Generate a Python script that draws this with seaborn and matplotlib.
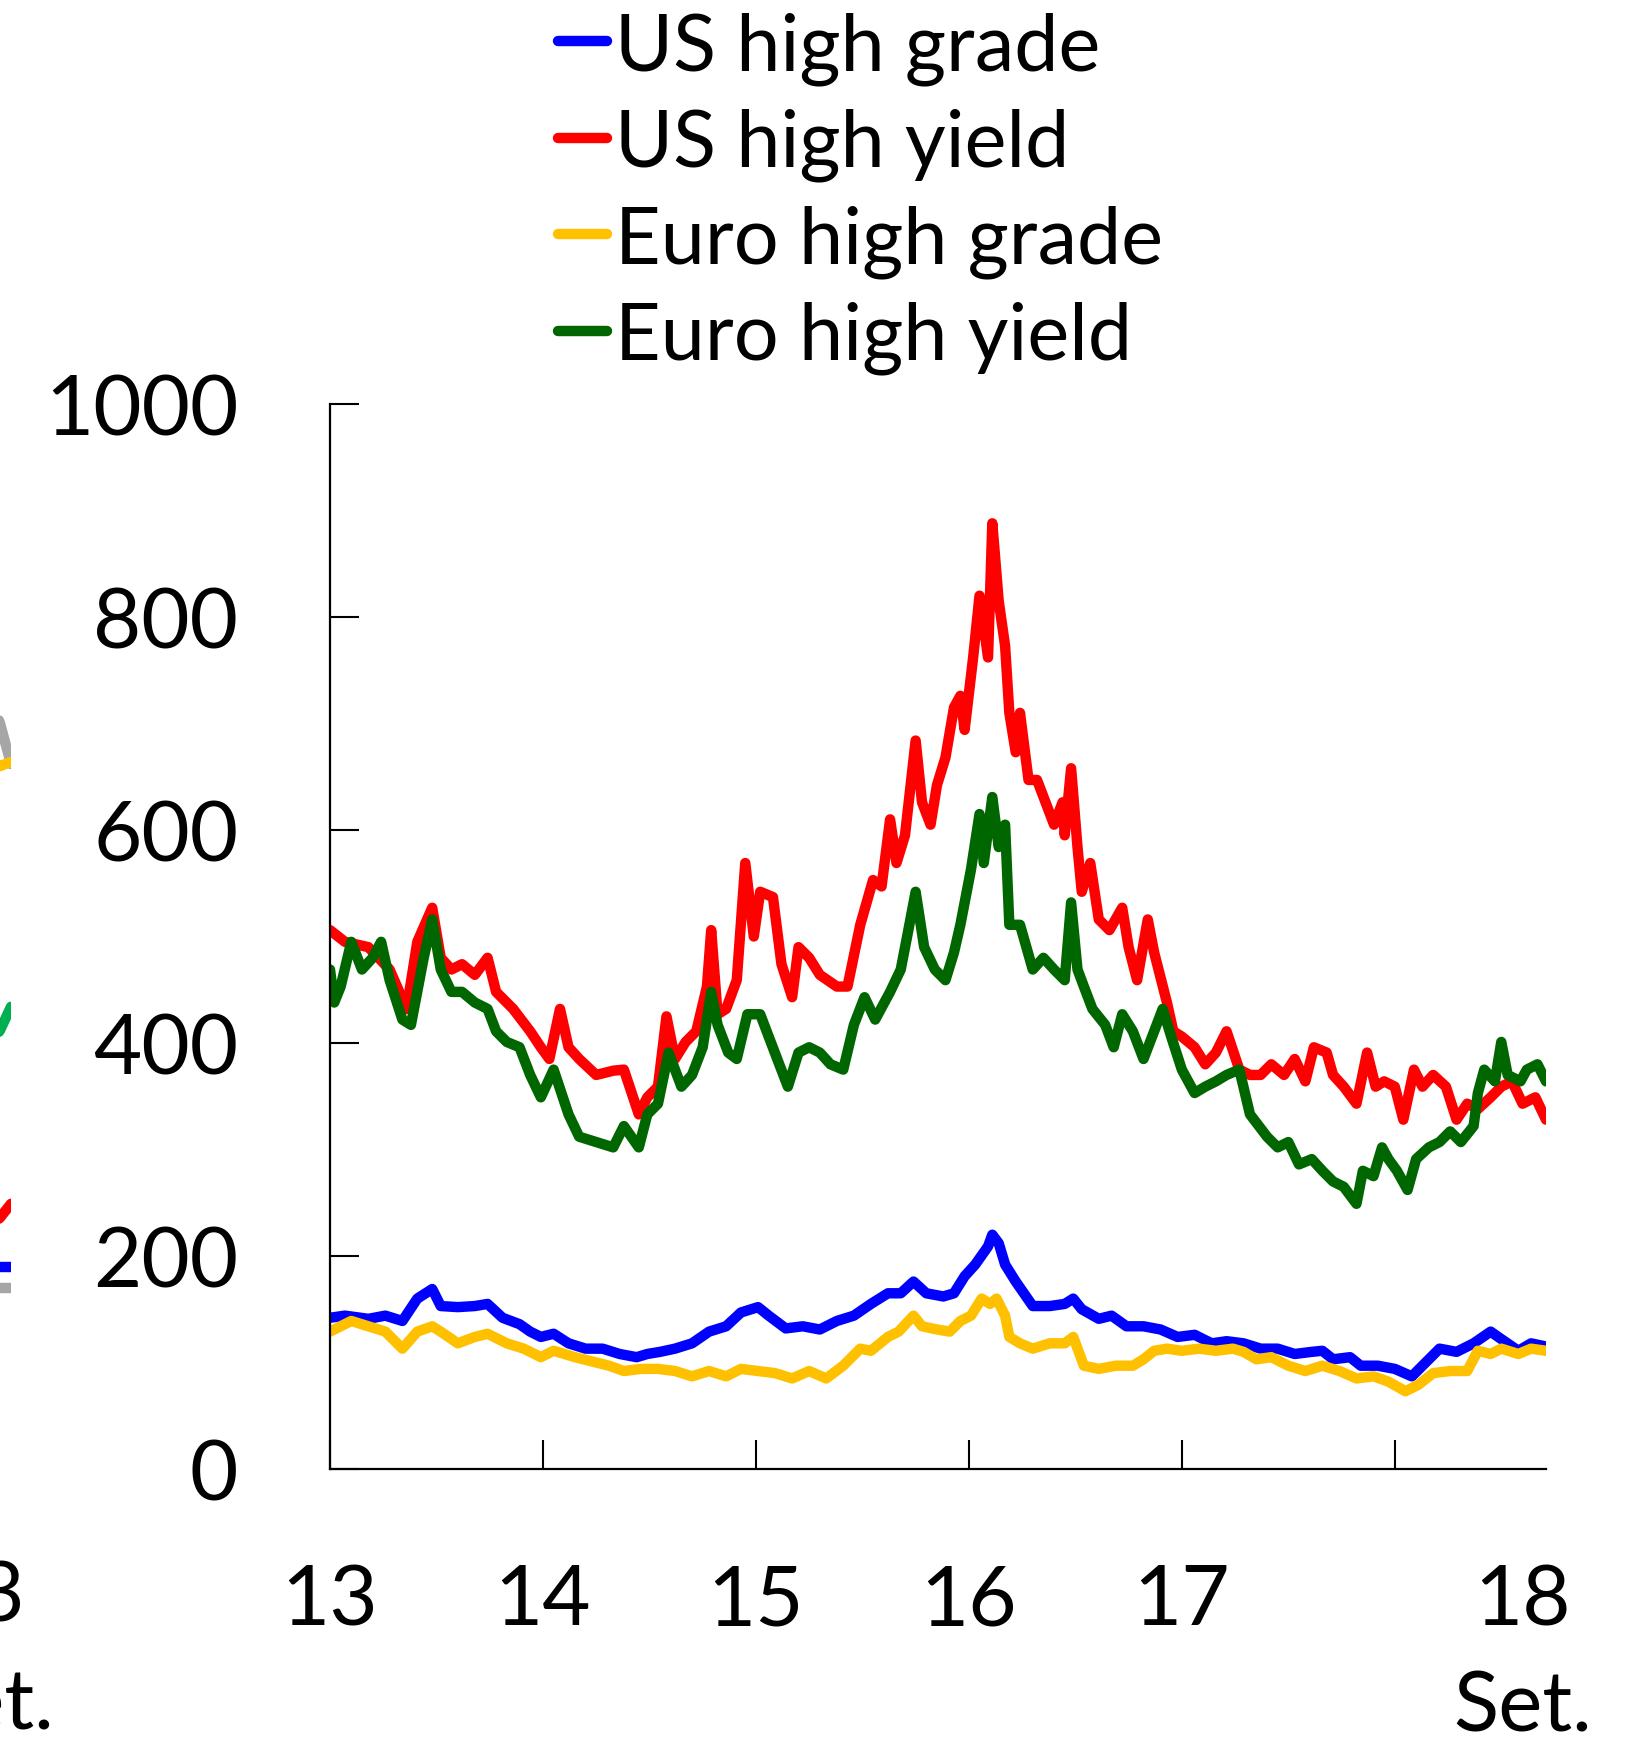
import matplotlib
matplotlib.use('Agg')
import matplotlib.pyplot as plt
from matplotlib.lines import Line2D
import pandas as pd
import seaborn as sns

# spread in punti base, ascissa in anni (13 = gen 2013)
us_hg_t = [13.00,13.07,13.18,13.26,13.34,13.41,13.48,13.52,13.60,13.68,
           13.74,13.81,13.89,13.94,13.99,14.05,14.12,14.20,14.28,14.36,
           14.44,14.49,14.55,14.62,14.70,14.78,14.86,14.93,15.01,15.06,
           15.14,15.22,15.30,15.38,15.46,15.54,15.62,15.68,15.74,15.80,
           15.88,15.93,15.98,16.03,16.09,16.11,16.14,16.17,16.22,16.30,
           16.38,16.45,16.49,16.53,16.61,16.67,16.74,16.82,16.90,16.98,
           17.06,17.14,17.21,17.29,17.37,17.45,17.53,17.61,17.66,17.71,
           17.79,17.84,17.92,18.00,18.08,18.13,18.21,18.29,18.37,18.45,
           18.50,18.58,18.64,18.71]
us_hg_v = [142,144,141,144,139,160,169,153,152,153,
           155,142,136,129,124,127,118,113,113,108,
           105,108,110,113,118,129,134,147,152,144,
           132,134,131,139,144,155,165,165,176,165,
           162,165,181,192,209,220,212,192,176,153,
           153,155,160,150,141,144,134,134,131,124,
           126,118,120,118,113,113,108,110,111,103,
           105,97,97,94,87,97,113,110,118,129,
           122,111,118,115]

us_hy_t = [13.00,13.07,13.18,13.28,13.36,13.41,13.48,13.52,13.57,13.62,
           13.68,13.74,13.78,13.86,13.94,13.99,14.03,14.08,14.12,14.17,
           14.25,14.33,14.38,14.45,14.49,14.54,14.58,14.62,14.67,14.72,
           14.77,14.79,14.82,14.86,14.91,14.95,14.99,15.02,15.08,15.12,
           15.17,15.20,15.25,15.30,15.38,15.43,15.49,15.55,15.59,15.63,
           15.66,15.70,15.75,15.78,15.82,15.85,15.89,15.93,15.96,15.98,
           16.02,16.05,16.09,16.11,16.14,16.17,16.19,16.22,16.24,16.28,
           16.32,16.36,16.40,16.44,16.45,16.48,16.51,16.53,16.57,16.61,
           16.66,16.72,16.75,16.79,16.84,16.87,16.93,16.96,17.00,17.06,
           17.11,17.16,17.21,17.27,17.32,17.37,17.42,17.48,17.53,17.58,
           17.62,17.68,17.71,17.76,17.82,17.87,17.91,17.95,18.00,18.04,
           18.09,18.13,18.18,18.24,18.29,18.34,18.39,18.45,18.50,18.55,
           18.60,18.66,18.71]
us_hy_v = [506,495,490,469,432,495,527,480,469,474,
           464,480,448,432,411,396,385,432,396,385,
           370,374,375,333,349,359,425,385,401,411,
           453,506,427,432,459,569,500,542,537,474,
           443,490,480,464,453,453,511,553,547,610,
           569,595,684,626,605,642,668,715,726,694,
           762,820,762,888,815,773,710,673,710,647,
           647,626,605,626,595,658,584,542,569,516,
           506,527,490,459,516,485,438,411,406,396,
           380,391,411,375,370,370,380,370,385,364,
           396,391,370,359,343,391,359,364,359,328,
           375,359,370,359,328,343,338,349,359,364,
           343,349,328]

eu_hg_t = [13.00,13.05,13.10,13.18,13.26,13.34,13.41,13.48,13.52,13.60,
           13.68,13.74,13.83,13.91,13.99,14.05,14.15,14.23,14.31,14.38,
           14.46,14.54,14.62,14.70,14.78,14.86,14.93,15.01,15.09,15.17,
           15.25,15.33,15.41,15.49,15.54,15.62,15.67,15.74,15.78,15.85,
           15.91,15.96,16.01,16.06,16.10,16.13,16.17,16.19,16.24,16.30,
           16.38,16.45,16.49,16.54,16.61,16.69,16.77,16.82,16.87,16.93,
           17.00,17.08,17.16,17.24,17.29,17.35,17.42,17.50,17.58,17.66,
           17.74,17.82,17.90,17.97,18.05,18.11,18.18,18.26,18.34,18.39,
           18.45,18.50,18.58,18.64,18.71]
eu_hg_v = [129,134,139,134,129,113,129,134,129,118,
           124,127,118,113,105,111,105,101,97,92,
           94,94,92,87,92,87,94,92,90,85,
           92,85,97,113,111,124,129,144,134,131,
           129,139,144,160,155,160,144,124,118,113,
           118,118,124,97,94,97,97,103,111,113,
           111,113,111,113,110,103,105,97,92,97,
           92,85,87,82,73,79,90,92,92,111,
           108,113,108,113,111]

eu_hy_t = [13.00,13.02,13.05,13.10,13.15,13.20,13.24,13.28,13.34,13.38,
           13.44,13.48,13.52,13.57,13.62,13.68,13.74,13.78,13.83,13.89,
           13.94,13.99,14.05,14.12,14.17,14.25,14.33,14.38,14.45,14.49,
           14.54,14.59,14.65,14.70,14.75,14.79,14.82,14.87,14.91,14.96,
           15.02,15.06,15.10,15.15,15.20,15.25,15.30,15.35,15.41,15.46,
           15.51,15.56,15.63,15.68,15.71,15.75,15.79,15.84,15.89,15.93,
           15.96,16.01,16.05,16.07,16.11,16.14,16.17,16.19,16.24,16.30,
           16.35,16.40,16.45,16.48,16.51,16.54,16.58,16.64,16.68,16.72,
           16.77,16.82,16.87,16.91,16.95,17.00,17.06,17.11,17.16,17.21,
           17.27,17.32,17.40,17.45,17.50,17.55,17.61,17.66,17.71,17.76,
           17.82,17.85,17.90,17.94,17.97,18.01,18.06,18.10,18.16,18.21,
           18.26,18.31,18.37,18.39,18.42,18.47,18.50,18.53,18.59,18.62,
           18.67,18.71]
eu_hy_v = [469,438,453,495,469,480,495,459,422,417,
           480,516,469,448,448,438,432,411,401,396,
           370,349,375,333,312,307,302,322,302,333,
           343,391,359,370,396,448,417,391,385,427,
           427,406,385,359,391,396,391,380,375,417,
           443,422,448,469,500,542,490,469,459,485,
           511,563,615,569,631,584,605,511,511,469,
           480,469,459,532,469,453,432,417,396,427,
           411,385,411,432,406,375,353,359,364,370,
           375,333,312,302,307,286,291,280,270,265,
           249,280,275,302,291,280,262,291,302,307,
           317,307,322,353,375,364,401,370,364,375,
           380,364]

series = ['US high grade', 'US high yield', 'Euro high grade', 'Euro high yield']
colori = ['#0000ff', '#ff0000', '#ffc000', '#006600']

# frammenti del grafico accanto (tagliato a sinistra)
fram_nomi = ['grigio', 'arancio', 'verde', 'rosso', 'blu', 'grigio2']
fram_col = ['#a6a6a6', '#ffc000', '#00b050', '#ff0000', '#0000ff', '#a6a6a6']
fram_v = [[730, 700, 662], [664, 660, 664], [396, 412, 434], [226, 236, 249], [190, 190, 190], [170, 170, 170]]

df = pd.concat([
    pd.DataFrame({'anno': us_hg_t, 'spread': us_hg_v, 'serie': series[0]}),
    pd.DataFrame({'anno': us_hy_t, 'spread': us_hy_v, 'serie': series[1]}),
    pd.DataFrame({'anno': eu_hg_t, 'spread': eu_hg_v, 'serie': series[2]}),
    pd.DataFrame({'anno': eu_hy_t, 'spread': eu_hy_v, 'serie': series[3]}),
], ignore_index=True)

sns.set_style('white')
plt.rcParams['font.family'] = ['Lato', 'DejaVu Sans']
plt.rcParams['text.color'] = 'black'
plt.rcParams['xtick.color'] = 'black'
plt.rcParams['ytick.color'] = 'black'
fs = 60
lw = 7.5

fig = plt.figure(figsize=(16.4, 17.49), dpi=100)
ax = fig.add_axes([330/1640, 1 - 1470/1749, (1546 - 330)/1640, (1470 - 405)/1749])

sns.lineplot(data=df, x='anno', y='spread', hue='serie', hue_order=series,
             palette=colori, estimator=None, sort=False, legend=False, ax=ax)
for ln in ax.get_lines():
    ln.set_linewidth(lw)
    ln.set_solid_joinstyle('round')
    ln.set_solid_capstyle('round')

ax.set_xlim(13, 18.71)
ax.set_ylim(0, 1000)
ax.set_xlabel('')
ax.set_ylabel('')
sns.despine(ax=ax)
for s in ['left', 'bottom']:
    ax.spines[s].set_linewidth(1.6)
    ax.spines[s].set_color('black')

ax.set_yticks([0, 200, 400, 600, 800, 1000])
ax.set_xticks([13, 14, 15, 16, 17, 18])
ax.set_xticklabels(['13', '14', '15', '16', '17', ''])
ax.set_xticks([18.6], minor=True)
ax.set_xticklabels(['18\nSet.'], minor=True)
ax.tick_params(axis='both', which='major', direction='in', length=21, width=1.5,
               color='black', labelsize=fs, bottom=True, left=True)
ax.tick_params(axis='y', pad=66)
ax.tick_params(axis='x', which='major', pad=68)
ax.tick_params(axis='x', which='minor', bottom=True, length=0, pad=68, labelsize=fs)
for lab in ax.get_xticklabels(minor=True):
    lab.set_linespacing(1.5)

handles = [Line2D([], [], color=c, lw=lw, solid_capstyle='round') for c in colori]
fig.legend(handles, series, loc='upper left', bbox_to_anchor=(558/1640, 1 - 12/1749),
           frameon=False, fontsize=57, handlelength=0.62, handletextpad=0.1,
           labelspacing=0.29, borderpad=0, borderaxespad=0)

# pezzo del pannello precedente, visibile solo al bordo
ax0 = fig.add_axes([-0.02, 1 - 1470/1749, 0.0267, (1470 - 405)/1749])
ax0.set_xlim(0, 1)
ax0.set_ylim(0, 1000)
ax0.axis('off')
for nome, c, v in zip(fram_nomi, fram_col, fram_v):
    sns.lineplot(x=[0.5, 0.75, 1.0], y=v, color=c, ax=ax0, estimator=None)
for ln in ax0.get_lines():
    ln.set_linewidth(lw)
fig.text(25/1640, 1 - 1598/1749, '13', fontsize=fs, ha='right', va='center')
fig.text(54/1640, 1 - 1707/1749, 'Set.', fontsize=fs, ha='right', va='center')

fig.savefig('out.png', dpi=100)
